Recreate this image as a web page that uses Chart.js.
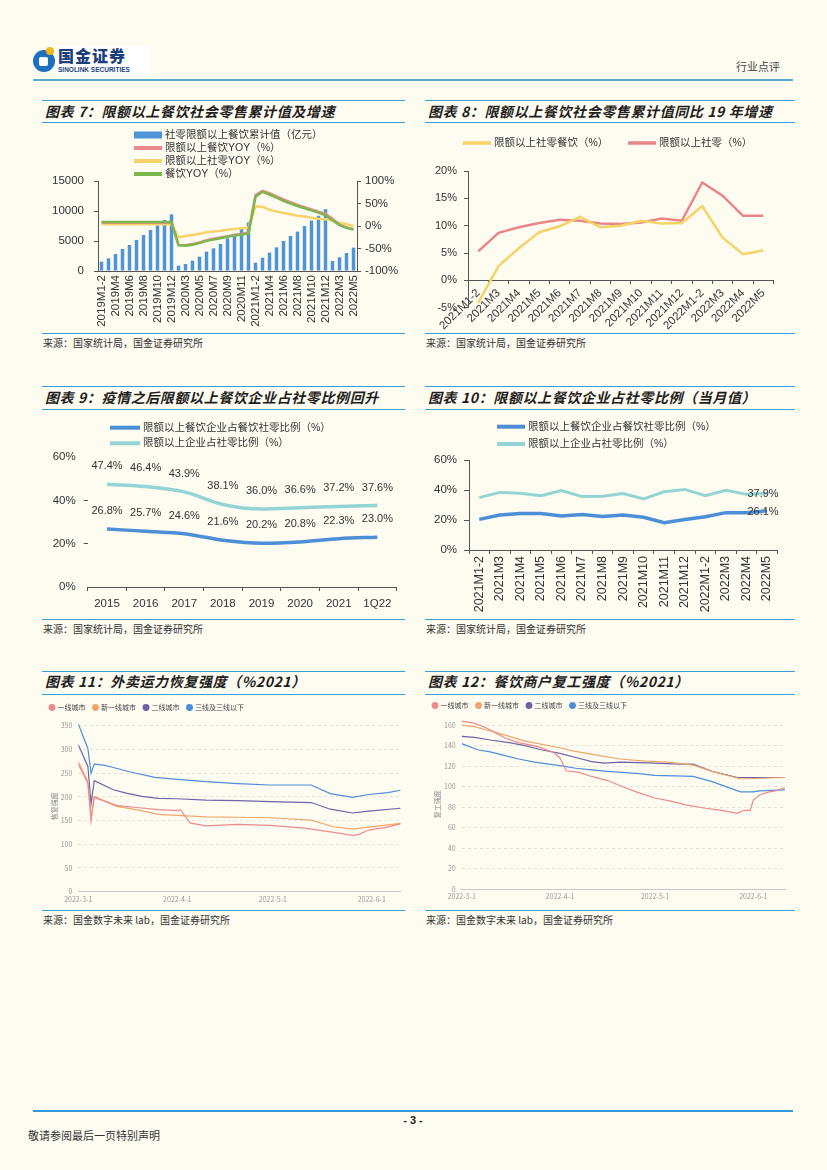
<!DOCTYPE html>
<html lang="zh-CN">
<head>
<meta charset="utf-8">
<title>行业点评 - 餐饮</title>
<script src="https://cdn.jsdelivr.net/npm/chart.js@4.4.1/dist/chart.umd.min.js"></script>
<style>
  html, body { margin: 0; padding: 0; }
  body { width: 827px; height: 1170px; position: relative; overflow: hidden;
         background: #fefbf1; font-family: "Noto Sans CJK SC", sans-serif; color: #222; }
  .rule { position: absolute; height: 0; border-top: 1.5px solid #3a9ed6; }
  .ttl { position: absolute; font-size: 14px; font-weight: 700; font-style: italic;
         line-height: 20px; white-space: nowrap; letter-spacing: 0.6px; color: #1e1e1e; }
  .src { position: absolute; font-size: 10px; line-height: 14px; color: #333; white-space: nowrap; }
  canvas { position: absolute; }
</style>
</head>
<body>

<!-- header -->
<div style="position:absolute;left:33px;top:50px;width:22px;height:22px;border-radius:50%;background:#1f6fc0;"></div>
<div style="position:absolute;left:39px;top:57px;width:9px;height:9px;background:#fff;border-radius:2px;"></div>
<div style="position:absolute;left:46px;top:47px;width:8px;height:8px;border-radius:50%;background:#f3b51c;"></div>
<div style="position:absolute;left:56px;top:46px;width:94px;height:31px;background:#fff;"></div>
<div style="position:absolute;left:58px;top:45px;font-size:16px;font-weight:900;line-height:20px;color:#1b3f7a;letter-spacing:1px;">国金证券</div>
<div style="position:absolute;left:58px;top:66px;font-family:'Liberation Sans';font-size:6.5px;font-weight:700;line-height:8px;color:#1b3f7a;">SINOLINK SECURITIES</div>
<div style="position:absolute;left:736px;top:59px;font-size:11px;line-height:14px;color:#444;">行业点评</div>
<div class="rule" style="left:33px;top:79px;width:760px;border-top:2px solid #56abcc;"></div>

<!-- row 1 -->
<div class="rule" style="left:42px;top:100px;width:363px;"></div>
<div class="ttl" style="left:45px;top:101px;">图表 7：限额以上餐饮社会零售累计值及增速</div>
<div class="rule" style="left:42px;top:122px;width:363px;"></div>
<canvas id="c7" width="363" height="207" style="left:42px;top:124px;"></canvas>
<div class="rule" style="left:42px;top:333px;width:363px;"></div>
<div class="src" style="left:43px;top:336px;">来源：国家统计局，国金证券研究所</div>

<div class="rule" style="left:425px;top:100px;width:370px;"></div>
<div class="ttl" style="left:428px;top:101px;">图表 8：限额以上餐饮社会零售累计值同比 19 年增速</div>
<div class="rule" style="left:425px;top:122px;width:370px;"></div>
<canvas id="c8" width="370" height="207" style="left:425px;top:124px;"></canvas>
<div class="rule" style="left:425px;top:333px;width:370px;"></div>
<div class="src" style="left:426px;top:336px;">来源：国家统计局，国金证券研究所</div>

<!-- row 2 -->
<div class="rule" style="left:42px;top:386px;width:363px;"></div>
<div class="ttl" style="left:45px;top:387px;">图表 9：疫情之后限额以上餐饮企业占社零比例回升</div>
<div class="rule" style="left:42px;top:409px;width:363px;"></div>
<canvas id="c9" width="363" height="206" style="left:42px;top:411px;"></canvas>
<div class="rule" style="left:42px;top:619px;width:363px;"></div>
<div class="src" style="left:43px;top:622px;">来源：国家统计局，国金证券研究所</div>

<div class="rule" style="left:425px;top:386px;width:370px;"></div>
<div class="ttl" style="left:428px;top:387px;">图表 10：限额以上餐饮企业占社零比例（当月值）</div>
<div class="rule" style="left:425px;top:409px;width:370px;"></div>
<canvas id="c10" width="370" height="206" style="left:425px;top:411px;"></canvas>
<div class="rule" style="left:425px;top:619px;width:370px;"></div>
<div class="src" style="left:426px;top:622px;">来源：国家统计局，国金证券研究所</div>

<!-- row 3 -->
<div class="rule" style="left:42px;top:671px;width:363px;"></div>
<div class="ttl" style="left:45px;top:671px;">图表 11：外卖运力恢复强度（%2021）</div>
<div class="rule" style="left:42px;top:694px;width:363px;"></div>
<canvas id="c11" width="363" height="212" style="left:42px;top:696px;"></canvas>
<div class="rule" style="left:42px;top:910px;width:363px;"></div>
<div class="src" style="left:43px;top:913px;">来源：国金数字未来 lab，国金证券研究所</div>

<div class="rule" style="left:425px;top:671px;width:370px;"></div>
<div class="ttl" style="left:428px;top:671px;">图表 12：餐饮商户复工强度（%2021）</div>
<div class="rule" style="left:425px;top:694px;width:370px;"></div>
<canvas id="c12" width="370" height="212" style="left:425px;top:696px;"></canvas>
<div class="rule" style="left:425px;top:910px;width:370px;"></div>
<div class="src" style="left:426px;top:913px;">来源：国金数字未来 lab，国金证券研究所</div>

<!-- footer -->
<div class="rule" style="left:33px;top:1110px;width:760px;border-top:2px solid #2f9be0;"></div>
<div style="position:absolute;left:400px;top:1113px;width:26px;text-align:center;font-family:'Liberation Sans';font-weight:700;font-size:11px;line-height:14px;">- 3 -</div>
<div style="position:absolute;left:28px;top:1128px;font-size:11px;line-height:14px;color:#333;">敬请参阅最后一页特别声明</div>

<script>
// ---------- 图表7 ----------
const months7 = ['2019M1-2','2019M3','2019M4','2019M5','2019M6','2019M7','2019M8','2019M9','2019M10','2019M11','2019M12',
                 '2020M1-2','2020M3','2020M4','2020M5','2020M6','2020M7','2020M8','2020M9','2020M10','2020M11','2020M12',
                 '2021M1-2','2021M3','2021M4','2021M5','2021M6','2021M7','2021M8','2021M9','2021M10','2021M11','2021M12',
                 '2022M1-2','2022M3','2022M4','2022M5'];
const cumSales7 = [1560, 2110, 2830, 3670, 4330, 5170, 6000, 6830, 7600, 8500, 9450,
                   890, 1170, 1720, 2390, 3220, 3780, 4500, 5440, 6170, 7000, 8100,
                   1390, 2220, 3060, 3940, 5000, 5830, 6560, 7500, 8400, 9200, 10300,
                   1670, 2280, 3000, 3890];
const aboveCaterYoy7 = [7.5, 7.3, 7.2, 7.1, 7.1, 7.0, 7.0, 7.0, 7.0, 7.1, 7.1,
                        -42, -43, -40, -36.5, -31.5, -28.5, -25.5, -22.5, -19.5, -17.5, -14.5,
                        69, 78, 73, 66, 59, 53, 47, 42, 37, 32, 27,
                        16, 3, -3, -7];
const aboveRetailYoy7 = [4.2, 4.0, 3.8, 3.9, 3.9, 4.0, 3.9, 3.9, 3.8, 3.9, 3.9,
                         -25, -22, -20, -17, -14, -12, -10.5, -8.5, -6.5, -5, -3.9,
                         44, 43, 36, 32, 29, 26, 23, 21, 18.5, 16, 15,
                         12, 7.4, 3.7, 0];
const caterYoy7 = [9.0, 8.9, 8.8, 8.8, 8.8, 8.8, 8.8, 8.8, 8.8, 8.9, 9.0,
                   -43, -44, -41.5, -38, -33, -30, -27, -24, -21, -19.5, -16.6,
                   65, 76, 70, 63, 56, 50, 44.4, 39.3, 34.8, 29.6, 24,
                   13, 2, -4, -8];

// ---------- 图表8 ----------
const months8 = ['2021M1-2','2021M3','2021M4','2021M5','2021M6','2021M7','2021M8','2021M9','2021M10','2021M11','2021M12',
                 '2022M1-2','2022M3','2022M4','2022M5'];
const caterVs19 = [-4.1, 2.6, 5.9, 8.8, 9.9, 11.6, 9.7, 10.0, 10.9, 10.4, 10.5, 13.6, 7.8, 4.8, 5.45];
const retailVs19 = [5.3, 8.7, 9.7, 10.5, 11.1, 10.9, 10.4, 10.3, 10.6, 11.3, 10.9, 17.9, 15.5, 11.8, 11.8];

// ---------- 图表9 ----------
const years9 = ['2015', '2016', '2017', '2018', '2019', '2020', '2021', '1Q22'];
const caterShare9 = [26.8, 25.7, 24.6, 21.6, 20.2, 20.8, 22.3, 23.0];
const retailShare9 = [47.4, 46.4, 43.9, 38.1, 36.0, 36.6, 37.2, 37.6];

// ---------- 图表10 ----------
const months10 = months8;
const caterShare10 = [20.4, 23.3, 24.4, 24.4, 22.7, 23.6, 22.4, 23.3, 21.8, 18.2, 20.4, 22.2, 24.9, 24.9, 26.1];
const retailShare10 = [34.9, 38.4, 37.8, 36.2, 39.6, 35.6, 35.8, 37.6, 34.0, 38.9, 40.4, 36.2, 39.8, 37.1, 37.9];

// ---------- 图表11 / 12 (x = 自2022-3-1起的天数) ----------
const dateTicks = [0, 31, 61, 92];
const dateLabels = ['2022-3-1', '2022-4-1', '2022-5-1', '2022-6-1'];
const riderTicks = [0, 50, 100, 150, 200, 250, 300, 350];
const shopTicks = [0, 20, 40, 60, 80, 100, 120, 140, 160];
const cityNames = ['一线城市', '新一线城市', '二线城市', '三线及三线以下'];
const cityColors = ['#ec8a8e', '#f0a66a', '#6b64a6', '#4c8fd8'];

const rider1Days = [0, 3, 4, 5, 12, 19, 25, 31, 32, 35, 40, 50, 60, 71, 79, 86, 88, 91, 96, 101];
const rider1 = [269, 229, 150, 199, 182, 177, 173, 171, 173, 145, 139, 142, 140, 134, 126, 119, 121, 130, 135, 143];
const rider2Days = [0, 3, 4, 5, 12, 19, 25, 31, 40, 50, 60, 73, 80, 86, 91, 101];
const rider2 = [274, 232, 156, 201, 180, 172, 163, 161, 158, 157, 156, 151, 137, 132, 136, 144];
const rider3Days = [0, 3, 4, 5, 11, 15, 20, 25, 31, 40, 50, 60, 73, 79, 86, 91, 101];
const rider3 = [310, 264, 185, 234, 215, 208, 201, 197, 196, 193, 192, 190, 188, 174, 166, 170, 176];
const rider4Days = [0, 3, 4, 5, 8, 11, 16, 24, 31, 40, 50, 60, 73, 79, 86, 91, 97, 101];
const rider4 = [354, 302, 250, 269, 267, 262, 253, 241, 237, 232, 228, 225, 225, 207, 199, 205, 209, 214];

const shop1Days = [0, 4, 8, 11, 14, 18, 24, 29, 31, 33, 37, 41, 46, 50, 55, 61, 66, 71, 77, 82, 87, 89, 91, 92, 94, 97, 99, 102];
const shop1 = [164, 162, 157, 152, 147, 143, 139, 133.5, 128, 115.5, 114, 110, 106, 101, 95, 89, 86, 82, 79, 77, 74, 77, 77, 87, 92, 95, 96, 99];
const shop2Days = [0, 4, 7, 13, 20, 31, 35, 45, 50, 58, 65, 73, 79, 88, 92, 102];
const shop2 = [160, 158.5, 156, 151, 144.5, 138, 135, 129.5, 127, 125, 124, 121, 115, 107.5, 108, 109];
const shop3Days = [0, 4, 9, 15, 20, 25, 31, 36, 41, 45, 50, 61, 69, 73, 79, 87, 92, 102];
const shop3 = [149, 148, 145.5, 143, 140, 136, 132.5, 128.5, 124.5, 123, 124, 123, 122, 122, 115, 109, 109, 109];
const shop4Days = [0, 5, 9, 14, 18, 23, 31, 36, 41, 46, 55, 61, 73, 79, 88, 92, 94, 102];
const shop4 = [142, 136, 134, 130, 127, 124, 120.5, 118, 116.5, 115, 113, 111, 110, 105, 95, 95, 96, 97];

Chart.defaults.font.family = '"Liberation Sans", "Noto Sans CJK SC", sans-serif';
Chart.defaults.color = '#333';
Chart.defaults.animation = false;
Chart.defaults.responsive = false;
Chart.defaults.plugins.legend.display = false;
Chart.defaults.plugins.tooltip.enabled = false;

const AXIS = '#555';
const pct = v => v + '%';

// legend drawn at fixed spots: bar -> filled box, line -> thick stroke
const boxLegend = {
  id: 'boxLegend',
  afterDraw(chart, args, opts) {
    const ctx = chart.ctx;
    ctx.save();
    ctx.font = opts.font;
    ctx.textBaseline = 'middle';
    chart.data.datasets.forEach((ds, i) => {
      const [x, y] = opts.at[i];
      if ((ds.type || chart.config.type) === 'bar') {
        ctx.fillStyle = ds.backgroundColor;
        ctx.fillRect(x, y - 3.5, opts.w, 7);
      } else {
        ctx.strokeStyle = ds.borderColor;
        ctx.lineWidth = opts.lw;
        ctx.beginPath();
        ctx.moveTo(x, y);
        ctx.lineTo(x + opts.w, y);
        ctx.stroke();
      }
      ctx.fillStyle = '#333';
      ctx.fillText(ds.label, x + opts.w + 3, y);
    });
    ctx.restore();
  }
};

// value labels next to points
const pointLabels = {
  id: 'pointLabels',
  afterDatasetsDraw(chart, args, opts) {
    const ctx = chart.ctx;
    ctx.save();
    ctx.font = opts.font;
    ctx.fillStyle = '#333';
    ctx.textAlign = 'center';
    ctx.textBaseline = 'middle';
    chart.data.datasets.forEach((ds, i) => {
      const pts = chart.getDatasetMeta(i).data;
      pts.forEach((pt, j) => {
        if (opts.lastOnly && j !== pts.length - 1) return;
        ctx.fillText(ds.data[j].toFixed(1) + '%', pt.x + opts.dx, pt.y + opts.dy);
      });
    });
    ctx.restore();
  }
};

// 图表7
new Chart(document.getElementById('c7'), {
  type: 'bar',
  data: {
    labels: months7,
    datasets: [
      { label: '社零限额以上餐饮累计值（亿元）', data: cumSales7, yAxisID: 'y', backgroundColor: '#4f94d7',
        barPercentage: 0.5, categoryPercentage: 1, order: 4 },
      { type: 'line', label: '限额以上餐饮YOY（%）', data: aboveCaterYoy7, yAxisID: 'y1', borderColor: '#e98a8c',
        borderWidth: 2.5, pointRadius: 0, order: 2 },
      { type: 'line', label: '限额以上社零YOY（%）', data: aboveRetailYoy7, yAxisID: 'y1', borderColor: '#f6d46a',
        borderWidth: 2.5, pointRadius: 0, order: 3 },
      { type: 'line', label: '餐饮YOY（%）', data: caterYoy7, yAxisID: 'y1', borderColor: '#7db64d',
        borderWidth: 2.5, pointRadius: 0, order: 1 },
    ],
  },
  options: {
    layout: { padding: { top: 57, left: 0, right: 0, bottom: 0 } },
    plugins: {
      boxLegend: { font: '10.5px "Liberation Sans", "Noto Sans CJK SC"', w: 28, lw: 4,
                   at: [[92, 11], [92, 24], [92, 37], [92, 50]] },
    },
    scales: {
      x: {
        grid: { display: false, drawTicks: false },
        border: { color: AXIS },
        ticks: { autoSkip: false, minRotation: 90, maxRotation: 90, padding: 4, font: { size: 11.5 },
                 callback: (v, i) => (i % 2 === 0 ? months7[i] : '') },
        afterFit: s => { s.height = 60; },
      },
      y: {
        position: 'left', min: 0, max: 15000,
        ticks: { stepSize: 5000, padding: 10, font: { size: 11.5 }, callback: v => String(v) },
        grid: { drawOnChartArea: false, tickLength: 4, color: AXIS },
        border: { color: AXIS },
        afterFit: s => { s.width = 56; },
      },
      y1: {
        position: 'right', min: -100, max: 100,
        ticks: { stepSize: 50, padding: 4, font: { size: 11.5 }, callback: pct },
        grid: { drawOnChartArea: false, tickLength: 4, color: AXIS },
        border: { color: AXIS },
        afterFit: s => { s.width = 48; },
      },
    },
  },
  plugins: [boxLegend],
});

// 图表8
new Chart(document.getElementById('c8'), {
  type: 'line',
  data: {
    labels: months8,
    datasets: [
      { label: '限额以上社零餐饮（%）', data: caterVs19, borderColor: '#f6d366', borderWidth: 2.5, pointRadius: 0 },
      { label: '限额以上社零（%）', data: retailVs19, borderColor: '#e8868a', borderWidth: 2.5, pointRadius: 0 },
    ],
  },
  options: {
    layout: { padding: { top: 47, left: 0, right: 21.5, bottom: 23.3 } },
    plugins: {
      boxLegend: { font: '10.5px "Liberation Sans", "Noto Sans CJK SC"', w: 28, lw: 3.5,
                   at: [[38, 19], [203, 19]] },
    },
    scales: {
      x: {
        position: { y: 0 }, offset: true,
        grid: { offset: true, drawOnChartArea: false, tickLength: 3, color: AXIS },
        border: { color: AXIS },
        ticks: { autoSkip: false, minRotation: 45, maxRotation: 45, padding: 3, font: { size: 11.5 } },
      },
      y: {
        min: -5, max: 20,
        ticks: { stepSize: 5, padding: 7, font: { size: 11 }, callback: pct },
        grid: { drawOnChartArea: false, tickLength: 4, color: AXIS },
        border: { color: AXIS },
        afterFit: s => { s.width = 43; },
      },
    },
  },
  plugins: [boxLegend],
});

// 图表9
new Chart(document.getElementById('c9'), {
  type: 'line',
  data: {
    labels: years9,
    datasets: [
      { label: '限额以上餐饮企业占餐饮社零比例（%）', data: caterShare9, borderColor: '#4d8fd6', borderWidth: 3.5,
        pointRadius: 0, cubicInterpolationMode: 'monotone' },
      { label: '限额以上企业占社零比例（%）', data: retailShare9, borderColor: '#94d4d2', borderWidth: 3.5,
        pointRadius: 0, cubicInterpolationMode: 'monotone' },
    ],
  },
  options: {
    layout: { padding: { top: 46, left: 0, right: 8.3, bottom: 0 } },
    plugins: {
      boxLegend: { font: '10.5px "Liberation Sans", "Noto Sans CJK SC"', w: 30, lw: 4,
                   at: [[68, 16.7], [68, 32.3]] },
      pointLabels: { font: '11px "Liberation Sans"', dx: 0, dy: -18, lastOnly: false },
    },
    scales: {
      x: {
        offset: true,
        grid: { offset: true, drawOnChartArea: false, tickLength: 4, color: AXIS },
        border: { color: AXIS },
        ticks: { padding: 6, font: { size: 11.5 } },
        afterFit: s => { s.height = 30; },
      },
      y: {
        min: 0, max: 60,
        ticks: { stepSize: 20, padding: 8, font: { size: 11.5 }, callback: pct },
        grid: { drawOnChartArea: false, tickLength: 4,
                tickColor: c => (c.tick && (c.tick.value === 20 || c.tick.value === 40) ? AXIS : 'rgba(0,0,0,0)') },
        border: { display: false },
        afterFit: s => { s.width = 45.7; },
      },
    },
  },
  plugins: [boxLegend, pointLabels],
});

// 图表10
new Chart(document.getElementById('c10'), {
  type: 'line',
  data: {
    labels: months10,
    datasets: [
      { label: '限额以上餐饮企业占餐饮社零比例（%）', data: caterShare10, borderColor: '#4d8fd6', borderWidth: 3.5, pointRadius: 0 },
      { label: '限额以上企业占社零比例（%）', data: retailShare10, borderColor: '#94d4d2', borderWidth: 3, pointRadius: 0 },
    ],
  },
  options: {
    layout: { padding: { top: 49, left: 0, right: 17.7, bottom: 0 } },
    plugins: {
      boxLegend: { font: '10.5px "Liberation Sans", "Noto Sans CJK SC"', w: 28, lw: 4,
                   at: [[72, 15.7], [72, 33]] },
      pointLabels: { font: '11px "Liberation Sans"', dx: -4, dy: 1, lastOnly: true },
    },
    scales: {
      x: {
        offset: true,
        grid: { offset: true, drawOnChartArea: false, tickLength: 4, color: AXIS },
        border: { color: AXIS },
        ticks: { autoSkip: false, minRotation: 90, maxRotation: 90, padding: 2, font: { size: 12.5 } },
        afterFit: s => { s.height = 67; },
      },
      y: {
        min: 0, max: 60,
        ticks: { stepSize: 20, padding: 7, font: { size: 11.5 }, callback: pct },
        grid: { drawOnChartArea: false, tickLength: 5, color: AXIS },
        border: { color: AXIS },
        afterFit: s => { s.width = 44; },
      },
    },
  },
  plugins: [boxLegend, pointLabels],
});

// 图表11 / 12
function cityChart(id, days, vals, o) {
  new Chart(document.getElementById(id), {
    type: 'line',
    data: {
      datasets: cityNames.map((name, k) => ({
        label: name,
        data: days[k].map((d, i) => ({ x: d, y: vals[k][i] })),
        borderColor: cityColors[k],
        backgroundColor: cityColors[k],
        borderWidth: 1.2,
        pointRadius: 0,
      })),
    },
    options: {
      layout: { padding: { top: o.padTop, left: 0, right: o.padRight, bottom: 0 } },
      plugins: {
        legend: {
          display: true, position: 'top', align: 'start',
          labels: { usePointStyle: true, pointStyle: 'circle', boxWidth: 4, boxHeight: 4, padding: 8,
                    color: '#444', font: { size: 7, family: '"Noto Sans CJK SC"' } },
        },
      },
      scales: {
        x: {
          type: 'linear', min: 0, max: o.xMax,
          afterBuildTicks: s => { s.ticks = dateTicks.map(v => ({ value: v })); },
          ticks: { maxRotation: 0, autoSkip: false, padding: 3, color: '#999',
                   font: { size: 7, family: '"Noto Sans CJK SC"' },
                   callback: v => dateLabels[dateTicks.indexOf(v)] },
          grid: { display: false, drawTicks: false },
          border: { color: '#c8c8c8' },
          afterFit: s => { s.height = o.xHeight; },
        },
        y: {
          min: 0, max: o.yMax,
          afterBuildTicks: s => { s.ticks = o.yTicks.map(v => ({ value: v })); },
          ticks: { autoSkip: false, padding: 6, color: '#999', font: { size: 7, family: '"Noto Sans CJK SC"' } },
          grid: { color: '#e6e3dc', drawTicks: false },
          border: { display: false, dash: [3, 3] },
          title: { display: true, text: o.yTitle, color: '#888', font: { size: 7, family: '"Noto Sans CJK SC"' },
                   padding: { top: 8, bottom: 0 } },
          afterFit: s => { s.width = o.yWidth; },
        },
      },
    },
  });
}

cityChart('c11', [rider1Days, rider2Days, rider3Days, rider4Days], [rider1, rider2, rider3, rider4],
  { padTop: 0, padRight: 4.5, xMax: 101, xHeight: 16.3, yMax: 360, yTicks: riderTicks, yWidth: 36.3, yTitle: '恢复强度' });
cityChart('c12', [shop1Days, shop2Days, shop3Days, shop4Days], [shop1, shop2, shop3, shop4],
  { padTop: -2, padRight: 10, xMax: 102, xHeight: 18.7, yMax: 166, yTicks: shopTicks, yWidth: 36.7, yTitle: '复工强度' });
</script>
</body>
</html>
